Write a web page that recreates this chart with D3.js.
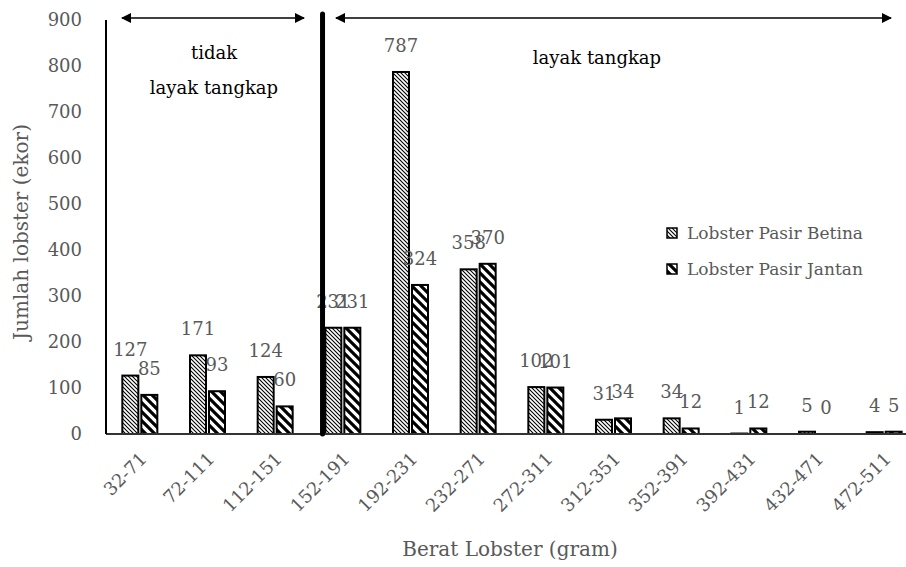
<!DOCTYPE html>
<html><head><meta charset="utf-8">
<script src="https://cdn.jsdelivr.net/npm/d3@7"></script>
<style>body{margin:0;background:#fff}svg{display:block}</style>
</head><body>
<svg id="c" width="906" height="567"></svg>
<script>
const categories = ["32-71","72-111","112-151","152-191","192-231","232-271","272-311","312-351","352-391","392-431","432-471","472-511"];
const betina = [127,171,124,231,787,358,102,31,34,1,5,4];
const jantan = [85,93,60,231,324,370,101,34,12,12,0,5];
const seriesNames = ["Lobster Pasir Betina","Lobster Pasir Jantan"];
const yTicks = [0,100,200,300,400,500,600,700,800,900];

(function(){
const svg = d3.select("#c");
const FONT = "DejaVu Serif, serif";
const grey = "#595959";
const mLeft = 106, mRight = 918, mTop = 20, mBottom = 434;

const x = d3.scaleBand().domain(categories).range([mLeft, mRight]);
const y = d3.scaleLinear().domain([0, 900]).range([mBottom, mTop]);
const barW = 16, gap = 3;

const defs = svg.append("defs");
function hatch(id, s, w) {
  const p = defs.append("pattern").attr("id", id).attr("patternUnits", "userSpaceOnUse")
    .attr("width", s).attr("height", s);
  p.append("rect").attr("width", s).attr("height", s).attr("fill", "#fff");
  p.append("path").attr("d", `M${-s},0 L${s},${2*s} M0,0 L${s},${s} M0,${-s} L${2*s},${s}`)
    .attr("stroke", "#000").attr("stroke-width", w).attr("fill", "none");
}
hatch("pB", 4, 1.1);
hatch("pJ", 9, 3.2);

const series = [
  {vals: betina, fill: "url(#pB)", off: -gap/2 - barW},
  {vals: jantan, fill: "url(#pJ)", off: gap/2}
];
series.forEach(s => {
  svg.append("g").selectAll("rect").data(categories).join("rect")
    .attr("x", c => x(c) + x.bandwidth()/2 + s.off)
    .attr("y", (c,i) => y(s.vals[i]))
    .attr("width", barW)
    .attr("height", (c,i) => mBottom - y(s.vals[i]))
    .attr("fill", s.fill).attr("stroke", "#000").attr("stroke-width", 2);
  svg.append("g").selectAll("text").data(categories).join("text")
    .attr("x", c => x(c) + x.bandwidth()/2 + s.off + barW/2)
    .attr("y", (c,i) => y(s.vals[i]) - 20)
    .attr("text-anchor", "middle").attr("font-family", FONT).attr("font-size", 18)
    .attr("fill", grey).text((c,i) => s.vals[i]);
});

svg.append("line").attr("x1", mLeft).attr("x2", 906).attr("y1", mBottom).attr("y2", mBottom)
  .attr("stroke", "#333").attr("stroke-width", 2);
svg.append("line").attr("x1", mLeft).attr("x2", mLeft).attr("y1", mTop).attr("y2", mBottom)
  .attr("stroke", "#000").attr("stroke-width", 2);

const yAxis = svg.append("g").attr("transform", `translate(${mLeft},0)`)
  .call(d3.axisLeft(y).tickValues(yTicks).tickSize(0).tickPadding(24));
yAxis.select(".domain").remove();
yAxis.selectAll("text").attr("font-family", FONT).attr("font-size", 18).attr("fill", grey);

const xAxis = svg.append("g").attr("transform", `translate(0,${mBottom})`)
  .call(d3.axisBottom(x).tickSize(0));
xAxis.select(".domain").remove();
xAxis.selectAll("text").attr("font-family", FONT).attr("font-size", 18).attr("fill", grey)
  .attr("text-anchor", "end").attr("dy", null).attr("y", 0)
  .attr("transform", "translate(8,26) rotate(-45)");

svg.append("text").attr("x", 510).attr("y", 556).attr("text-anchor", "middle")
  .attr("font-family", FONT).attr("font-size", 20).attr("fill", grey).text("Berat Lobster (gram)");
svg.append("text").attr("transform", "translate(28,232) rotate(-90)").attr("text-anchor", "middle")
  .attr("font-family", FONT).attr("font-size", 20).attr("fill", grey).text("Jumlah lobster (ekor)");

const divX = x(categories[3]) + x.bandwidth() * 0.2;
svg.append("line").attr("x1", divX).attr("x2", divX).attr("y1", 14).attr("y2", mBottom)
  .attr("stroke", "#000").attr("stroke-width", 5).attr("stroke-linecap", "round");
defs.append("marker").attr("id", "ah").attr("viewBox", "0 0 10 10").attr("refX", 9).attr("refY", 5)
  .attr("markerWidth", 12).attr("markerHeight", 10).attr("markerUnits", "userSpaceOnUse")
  .attr("orient", "auto-start-reverse")
  .append("path").attr("d", "M0,0 L10,5 L0,10 z").attr("fill", "#000");
function arrow(x1, x2) {
  svg.append("line").attr("x1", x1).attr("x2", x2).attr("y1", 18).attr("y2", 18)
    .attr("stroke", "#000").attr("stroke-width", 1.5)
    .attr("marker-start", "url(#ah)").attr("marker-end", "url(#ah)");
}
arrow(122, 304);
arrow(336, 891);

svg.append("text").attr("x", 214).attr("y", 59).attr("text-anchor", "middle")
  .attr("font-family", FONT).attr("font-size", 18).attr("fill", "#000").text("tidak");
svg.append("text").attr("x", 214).attr("y", 94).attr("text-anchor", "middle")
  .attr("font-family", FONT).attr("font-size", 18).attr("fill", "#000").text("layak tangkap");
svg.append("text").attr("x", 597).attr("y", 64).attr("text-anchor", "middle")
  .attr("font-family", FONT).attr("font-size", 18).attr("fill", "#000").text("layak tangkap");

const lg = svg.append("g");
seriesNames.forEach((n, i) => {
  const yy = 228 + i * 36;
  lg.append("rect").attr("x", 667).attr("y", yy).attr("width", 10).attr("height", 10)
    .attr("fill", i === 0 ? "url(#pB)" : "url(#pJ)").attr("stroke", "#000").attr("stroke-width", 1.5);
  lg.append("text").attr("x", 687).attr("y", yy + 11).attr("font-family", FONT).attr("font-size", 17)
    .attr("fill", grey).text(n);
});
})();
</script>
</body></html>
